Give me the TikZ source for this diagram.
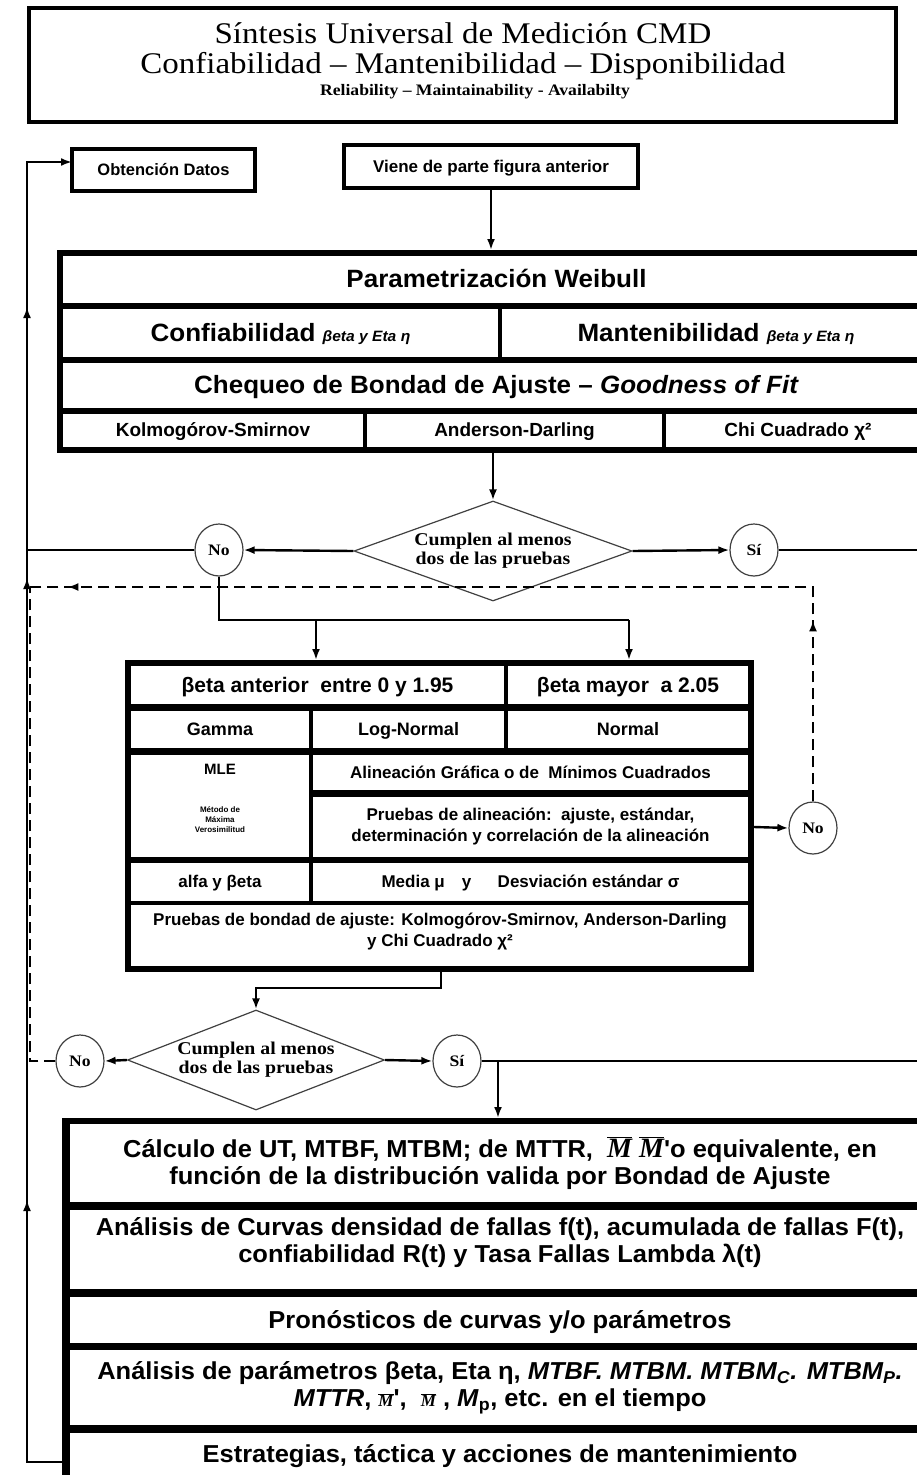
\documentclass[tikz,border=0pt]{standalone}
\usepackage{fontspec}
\setmainfont{Liberation Sans}
\newfontfamily\wsans{Liberation Sans}[FakeStretch=1.04]
\newfontfamily\hserif{Liberation Serif}[FakeStretch=1.1]
\newfontfamily\mserif{Liberation Serif}
\usetikzlibrary{arrows.meta,shapes.geometric,decorations.markings}

\newcommand\fs[2]{\fontsize{#1}{#2}\selectfont}
% serif italic M with a bar, as used for mean times
\newcommand\Mbar[1]{$\overline{\hbox{\mserif\bfseries\itshape\fs{#1}{#1}M}}$}

% one rectangular cell given by its top-left and bottom-right corners
\newcommand\cell[7][]{%
  \node[cellsty,#1,anchor=north west,
        minimum width={#5pt-#3pt},minimum height={#6pt-#4pt}] (#2) at (#3,#4) {#7};}

\begin{document}
\begin{tikzpicture}[x=1pt,y=-1pt,
  >={Latex[length=11pt,width=8pt]},
  cellsty/.style={fill=white,inner sep=0pt,outer sep=0pt,align=center,
                  execute at begin node={\vphantom{Ágy}}},
  framebox/.style={fill=black},
  link/.style={line width=2.4pt},
  arr/.style={link,->},
  dashlink/.style={line width=2.8pt,dash pattern=on 11pt off 6pt},
  dec/.style={diamond,draw=black!75,line width=1.2pt,fill=white,inner sep=0pt,
              aspect=2.8,align=center,font={\hserif\bfseries\fs{18}{19}}},
  yn/.style={ellipse,draw=black!75,line width=1.2pt,fill=white,inner sep=0pt,
             minimum width=48pt,minimum height=52pt,font={\hserif\bfseries\fs{16}{17}}},
  wfont/.style={font={\wsans\bfseries\fs{25}{28}}},
  w4font/.style={font={\bfseries\fs{19}{21}}},
  mfont/.style={font={\bfseries\fs{#1}{21}}},
  bfont/.style={font={\wsans\bfseries\fs{24.5}{27}}},
]
\useasboundingbox (0,0) rectangle (917,1475);
\clip (0,0) rectangle (917,1475);

% ---------- title block ----------
\cell[draw=black,line width=4.5pt]{head}{29}{8}{896}{122}{}
\node[font={\hserif\fs{30}{32}}] (h1) at (463,33) {Síntesis Universal de Medición CMD};
\node[font={\hserif\fs{30}{32}}] (h2) at (463,66) {Confiabilidad – Mantenibilidad – Disponibilidad};
\node[font={\hserif\bfseries\fs{16}{18}}] (h3) at (475,92) {Reliability – Maintainability - Availabilty};

% ---------- entry boxes ----------
\cell[draw=black,line width=4pt,font={\bfseries\fs{16.5}{18}}]{obt}{72}{149}{255}{191}{Obtención Datos}
\cell[draw=black,line width=4pt,font={\bfseries\fs{17}{18}}]{prev}{344}{145}{638}{188}{Viene de parte figura anterior}

% ---------- Weibull block ----------
\cell[framebox]{weib}{57}{250}{930}{453}{}
\cell[wfont]{w1}{63}{256}{930}{303}{Parametrización Weibull}
\cell[wfont]{w2a}{63}{309}{498}{357}{Confiabilidad {\itshape\fs{15}{16}βeta y Eta η}}
\cell[wfont]{w2b}{502}{309}{930}{357}{Mantenibilidad {\itshape\fs{15}{16}βeta y Eta η}}
\cell[wfont]{w3}{63}{363}{930}{408}{Chequeo de Bondad de Ajuste – \textit{Goodness of Fit}}
\cell[w4font]{w4a}{63}{414}{363}{447}{Kolmogórov-Smirnov}
\cell[w4font]{w4b}{367}{414}{662}{447}{Anderson-Darling}
\cell[w4font]{w4c}{666}{414}{930}{447}{Chi Cuadrado χ²}

\draw[arr] (prev.south) -- (prev.south |- weib.north);

% ---------- first decision ----------
\node[dec,minimum width=278pt,minimum height=100pt] (d1) at (493,551) {Cumplen al menos\\dos de las pruebas};
\draw[arr] (d1.north |- weib.south) -- (d1.north);
\node[yn] (no1) at (219,550) {No};
\node[yn] (si1) at (754,550) {Sí};
\draw[arr] (d1.west) -- (no1.east);
\draw[arr] (d1.east) -- (si1.west);
\coordinate (outA) at (930,550);
\draw[link] (si1.east) -- (outA);
\coordinate (railA) at (27,550);
\draw[link] (no1.west) -- (railA);

% ---------- alternative distributions block ----------
\cell[framebox]{mid}{125}{660}{754}{972}{}
\cell[mfont=21]{ma}{131}{666}{504}{704}{βeta anterior\ \ entre 0 y 1.95}
\cell[mfont=21]{mb}{508}{666}{748}{704}{βeta mayor\ \ a 2.05}
\cell[mfont=18]{gam}{131}{711}{309}{748}{Gamma}
\cell[mfont=18]{logn}{313}{711}{504}{748}{Log-Normal}
\cell[mfont=18]{norm}{508}{711}{748}{748}{Normal}
\cell{mle}{131}{755}{309}{857}{}
\node[mfont=15] (mlet) at (220,769) {MLE};
\node[font={\bfseries\fs{8}{10}},align=center] (mlev) at (220,820) {Método de\\Máxima\\Verosimilitud};
\cell[mfont=17]{alin}{313}{755}{748}{790}{Alineación Gráfica o de\ \ Mínimos Cuadrados}
\cell[mfont=17]{palin}{313}{797}{748}{857}{Pruebas de alineación:\ \ ajuste, estándar,\\determinación y correlación de la alineación}
\cell[mfont=17]{alfa}{131}{863}{309}{901}{alfa y βeta}
\cell[mfont=17]{media}{313}{863}{748}{901}{Media μ\quad y\quad\ \ Desviación estándar σ}
\cell{gof}{131}{905}{748}{966}{}
\node[mfont=17,anchor=north,align=center] (goft) at (440,909) {Pruebas de bondad de ajuste: Kolmogórov-Smirnov, Anderson-Darling\\y Chi Cuadrado χ²};

\coordinate (forkL) at (316,620);
\coordinate (forkR) at (629,620);
\draw[link] (no1.south) |- (forkR);
\draw[arr] (forkL) -- (forkL |- mid.north);
\draw[arr] (forkR) -- (forkR |- mid.north);

% rejection of the alignment tests
\node[yn] (no3) at (813,828) {No};
\draw[arr] (mid.east |- palin) -- (no3.west);
\coordinate (dashL) at (30,587);
\draw[dashlink,postaction={decorate,decoration={markings,
      mark=at position 181pt with {\arrow{>}},
      mark=at position 960pt with {\arrow{>}}}}]
  (no3.north) |- (dashL);

% ---------- second decision ----------
\coordinate (mout) at (441,972);
\node[dec,minimum width=257pt,minimum height=100pt] (d2) at (256,1060) {Cumplen al menos\\dos de las pruebas};
\draw[arr] (mout) -- ++(0,16) -| (d2.north);
\node[yn] (no2) at (80,1061) {No};
\node[yn] (si2) at (457,1061) {Sí};
\draw[arr] (d2.west) -- (no2.east);
\draw[arr] (d2.east) -- (si2.west);
\coordinate (outB) at (930,1061);
\draw[link] (si2.east) -- (outB);
\draw[dashlink] (no2.west) -| (dashL);

% ---------- results block ----------
\cell[framebox]{bot}{62}{1118}{930}{1495}{}
\cell[bfont]{b1}{70}{1124}{930}{1202}{Cálculo de UT, MTBF, MTBM; de MTTR,\ \ \Mbar{28}\ \Mbar{28}'o equivalente, en\\función de la distribución valida por Bondad de Ajuste}
\cell{b2}{70}{1210}{930}{1289}{}
\node[bfont,anchor=north,align=center] (b2t) at (500,1214) {Análisis de Curvas densidad de fallas f(t), acumulada de fallas F(t),\\confiabilidad R(t) y Tasa Fallas Lambda λ(t)};
\cell[bfont]{b3}{70}{1297}{930}{1343}{Pronósticos de curvas y/o parámetros}
\cell[bfont]{b4}{70}{1350}{930}{1425}{Análisis de parámetros βeta, Eta η, \textit{MTBF. MTBM. MTBM\textsubscript{C}. MTBM\textsubscript{P}.}\\\textit{MTTR}, \Mbar{17}', \ \Mbar{17} , \textit{M}\textsubscript{p}, etc. en el tiempo}
\cell{b5}{70}{1433}{930}{1495}{}
\node[bfont] (b5t) at (500,1456) {Estrategias, táctica y acciones de mantenimiento};

\coordinate (drop) at (498,1061);
\draw[arr] (drop) -- (drop |- bot.north);

% ---------- feedback rail to data collection ----------
\coordinate (ret) at (62,1462);
\coordinate (railB) at (27,1462);
\coordinate (railT) at (27,162);
\draw[link,->,postaction={decorate,decoration={markings,
      mark=at position 297pt with {\arrow{>}},
      mark=at position 919pt with {\arrow{>}},
      mark=at position 1190pt with {\arrow{>}}}}]
  (ret) -- (railB) -- (railT) -- (railT -| obt.west);
\end{tikzpicture}
\end{document}
